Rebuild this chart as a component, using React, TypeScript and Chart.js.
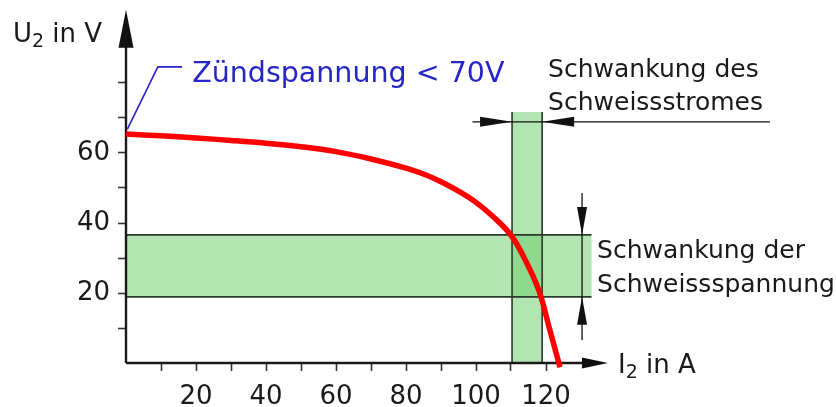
import React, { useEffect, useRef } from "react";
import { Chart, registerables } from "chart.js";

Chart.register(...registerables);

// ---- Data ----
const currentA = [0, 10, 20, 30, 40, 50, 60, 70, 80, 85, 90, 95, 100, 105, 110, 114, 118, 121, 124];
const voltageV = [65.4, 64.9, 64.3, 63.6, 62.8, 61.8, 60.4, 58.3, 55.7, 54.0, 51.8, 49.1, 45.9, 41.7, 36.5, 29.6, 20.6, 9.8, -1.2];

const xTickValues = [10, 20, 30, 40, 50, 60, 70, 80, 90, 100, 110, 120];
const xLabelValues = [20, 40, 60, 80, 100, 120];
const yTickValues = [10, 20, 30, 40, 50, 60, 70, 80];
const yLabelValues = [20, 40, 60];

const currentBand = [110.3, 118.9]; // Schwankung des Schweissstromes (A)
const currentBandTop = 71.7; // V
const voltageBand = [18.9, 36.6]; // Schwankung der Schweissspannung (V)
const voltageBandEnd = 133; // A

const xAxisEnd = 137.7;
const yAxisEnd = 100.9;

const currentDimY = 68.9;
const currentDimFrom = 99;
const currentDimTo = 184;
const voltageDimX = 130.3;
const voltageDimFrom = 48.6;
const voltageDimTo = 6.6;

const leaderX = [0.4, 9.1, 16];
const leaderY = [66.8, 84.6, 84.6];

const FONT = '"DejaVu Sans", Verdana, sans-serif';
const BLUE = "#2626c4";
const TEXT = "#1a1a1a";

function arrowHead(ctx: CanvasRenderingContext2D, tx: number, ty: number, dx: number, dy: number, len: number, half: number) {
  const bx = tx - dx * len;
  const by = ty - dy * len;
  const px = -dy;
  const py = dx;
  ctx.beginPath();
  ctx.moveTo(tx, ty);
  ctx.lineTo(bx + px * half, by + py * half);
  ctx.lineTo(bx - px * half, by - py * half);
  ctx.closePath();
  ctx.fill();
}

function subText(ctx: CanvasRenderingContext2D, x: number, y: number, main: string, sub: string, rest: string, size: number) {
  ctx.font = `${size}px ${FONT}`;
  ctx.fillText(main, x, y);
  let cx = x + ctx.measureText(main).width;
  ctx.font = `${Math.round(size * 0.72)}px ${FONT}`;
  ctx.fillText(sub, cx, y + size * 0.2);
  cx += ctx.measureText(sub).width;
  ctx.font = `${size}px ${FONT}`;
  ctx.fillText(rest, cx, y);
}

const overlayPlugin = {
  id: "overlay",
  beforeDatasetsDraw(chart: any) {
    const { ctx, scales } = chart;
    const X = (v: number) => scales.x.getPixelForValue(v);
    const Y = (v: number) => scales.y.getPixelForValue(v);
    ctx.save();
    // bands
    ctx.fillStyle = "rgba(110, 205, 110, 0.52)";
    ctx.fillRect(X(0), Y(voltageBand[1]), X(voltageBandEnd) - X(0), Y(voltageBand[0]) - Y(voltageBand[1]));
    ctx.fillRect(X(currentBand[0]), Y(currentBandTop), X(currentBand[1]) - X(currentBand[0]), Y(0) - Y(currentBandTop));
    // band outlines
    ctx.strokeStyle = "#2b3b2b";
    ctx.lineWidth = 1.6;
    ctx.beginPath();
    for (const v of voltageBand) {
      ctx.moveTo(X(0), Y(v));
      ctx.lineTo(X(voltageBandEnd), Y(v));
    }
    for (const c of currentBand) {
      ctx.moveTo(X(c), Y(0));
      ctx.lineTo(X(c), Y(currentBandTop));
    }
    ctx.stroke();

    // dimension lines
    ctx.strokeStyle = "#111";
    ctx.fillStyle = "#111";
    ctx.lineWidth = 1.3;
    ctx.beginPath();
    ctx.moveTo(X(currentDimFrom), Y(currentDimY));
    ctx.lineTo(X(currentDimTo), Y(currentDimY));
    ctx.moveTo(X(voltageDimX), Y(voltageDimFrom));
    ctx.lineTo(X(voltageDimX), Y(voltageDimTo));
    ctx.stroke();
    arrowHead(ctx, X(currentBand[0]), Y(currentDimY), 1, 0, 32, 5);
    arrowHead(ctx, X(currentBand[1]), Y(currentDimY), -1, 0, 32, 5);
    arrowHead(ctx, X(voltageDimX), Y(voltageBand[1]), 0, 1, 28, 5);
    arrowHead(ctx, X(voltageDimX), Y(voltageBand[0]), 0, -1, 28, 5);

    // axes
    ctx.strokeStyle = "#1a1a1a";
    ctx.fillStyle = "#111";
    ctx.lineWidth = 2.4;
    ctx.beginPath();
    ctx.moveTo(X(0), Y(0));
    ctx.lineTo(X(0), Y(yAxisEnd) + 30);
    ctx.moveTo(X(0), Y(0));
    ctx.lineTo(X(xAxisEnd) - 20, Y(0));
    ctx.stroke();
    arrowHead(ctx, X(0), Y(yAxisEnd), 0, -1, 38, 7.5);
    arrowHead(ctx, X(xAxisEnd), Y(0), 1, 0, 26, 5.5);

    // leader line
    ctx.strokeStyle = BLUE;
    ctx.lineWidth = 1.6;
    ctx.beginPath();
    leaderX.forEach((lx, i) => {
      if (i === 0) ctx.moveTo(X(lx), Y(leaderY[i]));
      else ctx.lineTo(X(lx), Y(leaderY[i]));
    });
    ctx.stroke();

    // texts
    ctx.textBaseline = "alphabetic";
    ctx.textAlign = "left";
    ctx.fillStyle = BLUE;
    ctx.font = `28.5px ${FONT}`;
    ctx.fillText("Zündspannung < 70V", X(18.9), Y(80.3));

    ctx.fillStyle = TEXT;
    subText(ctx, X(-32.3), Y(91.7), "U", "2", " in V", 26);
    subText(ctx, X(140.6), Y(-2.9), "I", "2", " in A", 26);

    ctx.font = `25px ${FONT}`;
    ctx.fillText("Schwankung des", X(120.6), Y(81.7));
    ctx.fillText("Schweissstromes", X(120.6), Y(72.3));
    ctx.fillText("Schwankung der", X(134.6), Y(30));
    ctx.fillText("Schweissspannung", X(134.6), Y(20.3));
    ctx.restore();
  },
};

export default function App() {
  const ref = useRef<HTMLCanvasElement>(null);

  useEffect(() => {
    if (!ref.current) return;
    const chart = new Chart(ref.current, {
      type: "line",
      data: {
        datasets: [
          {
            label: "U2",
            data: currentA.map((c, i) => ({ x: c, y: voltageV[i] })),
            borderColor: "#ff0000",
            borderWidth: 5.5,
            pointRadius: 0,
            fill: false,
            tension: 0.4,
            clip: false as any,
          },
        ],
      },
      options: {
        responsive: false,
        animation: false,
        layout: { padding: { top: 16, left: 0, right: 0, bottom: 0 } },
        plugins: { legend: { display: false }, tooltip: { enabled: false }, title: { display: false } },
        events: [],
        scales: {
          x: {
            type: "linear",
            min: 0,
            max: (836 - 126) / 3.5,
            afterBuildTicks: (s: any) => {
              s.ticks = xTickValues.map((v) => ({ value: v }));
            },
            afterFit: (s: any) => {
              s.height = 44;
              s.paddingLeft = 0;
              s.paddingRight = 0;
            },
            border: { display: false },
            grid: {
              drawOnChartArea: false,
              drawTicks: true,
              tickLength: 8,
              tickColor: "#333",
              tickWidth: 1.6,
            },
            ticks: {
              autoSkip: false,
              maxRotation: 0,
              padding: 11,
              color: TEXT,
              font: { family: FONT, size: 26 },
              callback: (v: any) => (xLabelValues.includes(Number(v)) ? String(v) : ""),
            },
          },
          y: {
            type: "linear",
            min: 0,
            max: (363 - 16) / 3.5,
            afterBuildTicks: (s: any) => {
              s.ticks = yTickValues.map((v) => ({ value: v }));
            },
            afterFit: (s: any) => {
              s.width = 126;
              s.paddingTop = 0;
              s.paddingBottom = 0;
            },
            border: { display: false },
            grid: {
              drawOnChartArea: false,
              drawTicks: true,
              tickLength: 8,
              tickColor: "#333",
              tickWidth: 1.6,
            },
            ticks: {
              autoSkip: false,
              padding: 8,
              color: TEXT,
              font: { family: FONT, size: 26 },
              callback: (v: any) => (yLabelValues.includes(Number(v)) ? String(v) : ""),
            },
          },
        },
      },
      plugins: [overlayPlugin],
    });
    return () => chart.destroy();
  }, []);

  return (
    <div style={{ position: "fixed", left: 0, top: 0, width: 836, height: 407, background: "#fff" }}>
      <canvas ref={ref} width={836} height={407} style={{ display: "block" }} />
    </div>
  );
}
